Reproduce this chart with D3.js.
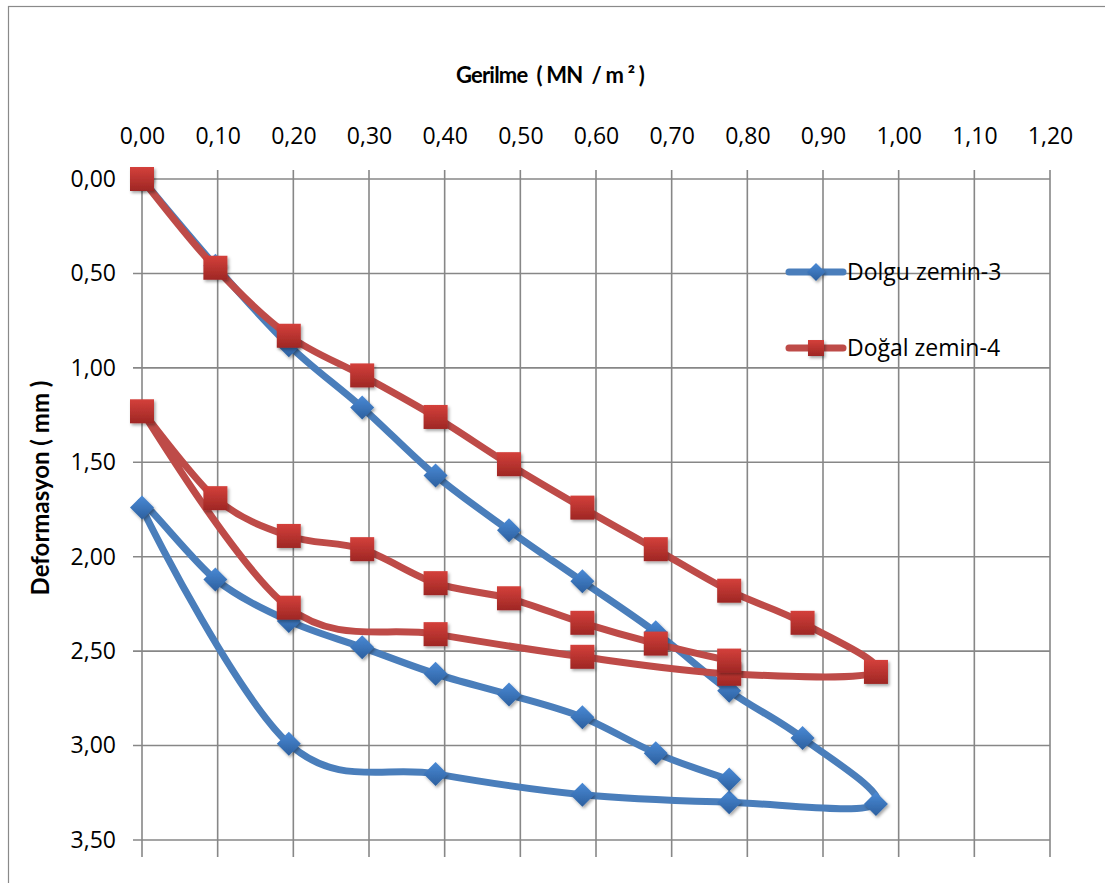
<!DOCTYPE html>
<html>
<head>
<meta charset="utf-8">
<script src="https://cdn.jsdelivr.net/npm/d3@7"></script>
<style>
  body { margin: 0; background: #fff; }
  svg text { font-family: "Open Sans", Lato, sans-serif; fill: #000; }
  svg text.title { font-family: Lato, "Open Sans", sans-serif; white-space: pre; }
</style>
</head>
<body>
<svg width="1105" height="883"></svg>
<script>
var svg = d3.select("svg"),
    width = +svg.attr("width"),
    height = +svg.attr("height");

// gerilme (MN/m2) values, loading - unloading - reloading
var dolguX = [0, 0.097, 0.194, 0.291, 0.388, 0.485, 0.582, 0.679, 0.776, 0.873, 0.970,
              0.776, 0.582, 0.388, 0.194, 0,
              0.097, 0.194, 0.291, 0.388, 0.485, 0.582, 0.679, 0.776];
var dolguY = [0, 0.46, 0.88, 1.21, 1.57, 1.86, 2.13, 2.40, 2.71, 2.96, 3.31,
              3.30, 3.26, 3.15, 2.99, 1.74,
              2.12, 2.34, 2.48, 2.62, 2.73, 2.85, 3.04, 3.18];

var dogalX = [0, 0.097, 0.194, 0.291, 0.388, 0.485, 0.582, 0.679, 0.776, 0.873, 0.970,
              0.776, 0.582, 0.388, 0.194, 0,
              0.097, 0.194, 0.291, 0.388, 0.485, 0.582, 0.679, 0.776];
var dogalY = [0, 0.47, 0.83, 1.04, 1.26, 1.51, 1.74, 1.96, 2.18, 2.35, 2.61,
              2.62, 2.53, 2.41, 2.27, 1.23,
              1.69, 1.89, 1.96, 2.14, 2.22, 2.35, 2.46, 2.55];

var seriesNames = ["Dolgu zemin-3", "Doğal zemin-4"];
var xTicks = d3.range(0, 1.2001, 0.1);
var yTicks = d3.range(0, 3.5001, 0.5);

var x = d3.scaleLinear().domain([0, 1.2]).range([142, 1050]);
var y = d3.scaleLinear().domain([0, 3.5]).range([179, 840]);

var fmt = function(d) { return d3.format(".2f")(d).replace(".", ","); };

// outer chart border
svg.append("rect")
    .attr("x", 8.5).attr("y", 6.5)
    .attr("width", 1110).attr("height", 890)
    .attr("fill", "none")
    .attr("stroke", "#8a8a8a")
    .attr("stroke-width", 1.2);

var defs = svg.append("defs");
var gb = defs.append("linearGradient").attr("id", "gBlue").attr("x1", 0).attr("y1", 0).attr("x2", 0).attr("y2", 1);
gb.append("stop").attr("offset", "0%").attr("stop-color", "#4a8ad6");
gb.append("stop").attr("offset", "100%").attr("stop-color", "#2c5f9e");
var gr = defs.append("linearGradient").attr("id", "gRed").attr("x1", 0).attr("y1", 0).attr("x2", 0).attr("y2", 1);
gr.append("stop").attr("offset", "0%").attr("stop-color", "#d4403b");
gr.append("stop").attr("offset", "100%").attr("stop-color", "#9e2724");
var sh = defs.append("filter").attr("id", "shadow").attr("x", "-50%").attr("y", "-50%").attr("width", "200%").attr("height", "200%");
sh.append("feDropShadow").attr("dx", 1.5).attr("dy", 2).attr("stdDeviation", 1.5)
    .attr("flood-color", "#000").attr("flood-opacity", 0.35);

// grid
var grid = svg.append("g").attr("stroke", "#878787").attr("stroke-width", 1.6);
grid.selectAll("line.v")
  .data(xTicks)
  .enter().append("line")
    .attr("x1", function(d) { return x(d); })
    .attr("x2", function(d) { return x(d); })
    .attr("y1", y(0) - 9)
    .attr("y2", 857);
grid.selectAll("line.h")
  .data(yTicks)
  .enter().append("line")
    .attr("x1", x(0) - 9)
    .attr("x2", x(1.2))
    .attr("y1", function(d) { return y(d); })
    .attr("y2", function(d) { return y(d); });

// axes (labels only, grid drawn above)
svg.append("g")
    .attr("transform", "translate(0," + y(0) + ")")
    .call(d3.axisTop(x).tickValues(xTicks).tickFormat(fmt).tickSize(0).tickPadding(35))
    .call(function(g) { g.select(".domain").remove(); })
    .selectAll("text")
    .style("font-size", "23px");

svg.append("g")
    .attr("transform", "translate(" + x(0) + ",0)")
    .call(d3.axisLeft(y).tickValues(yTicks).tickFormat(fmt).tickSize(0).tickPadding(26))
    .call(function(g) { g.select(".domain").remove(); })
    .selectAll("text")
    .style("font-size", "23px");

// axis titles
svg.append("text")
    .attr("class", "title")
    .attr("x", 550).attr("y", 83)
    .attr("text-anchor", "middle")
    .attr("font-weight", "bold")
    .style("font-size", "22px")
    .style("letter-spacing", "-0.8px")
    .text("Gerilme  ( MN  / m ² )");

svg.append("text")
    .attr("class", "title")
    .attr("transform", "translate(49,488) rotate(-90)")
    .attr("text-anchor", "middle")
    .attr("font-weight", "bold")
    .style("font-size", "24px")
    .text("Deformasyon ( mm )");

var line = d3.line()
    .x(function(d) { return x(d[0]); })
    .y(function(d) { return y(d[1]); })
    .curve(d3.curveCardinal.tension(0));

var series = [
  { name: seriesNames[0], xs: dolguX, ys: dolguY, stroke: "#4a7ebb", fill: "url(#gBlue)", shape: "diamond" },
  { name: seriesNames[1], xs: dogalX, ys: dogalY, stroke: "#be4b48", fill: "url(#gRed)", shape: "square" }
];

function marker(sel, s, size) {
  if (s.shape === "diamond") {
    sel.append("path")
      .attr("d", "M0," + (-size) + "L" + size + ",0L0," + size + "L" + (-size) + ",0Z")
      .attr("fill", s.fill)
      .attr("filter", "url(#shadow)");
  } else {
    sel.append("rect")
      .attr("x", -size).attr("y", -size)
      .attr("width", 2 * size).attr("height", 2 * size)
      .attr("fill", s.fill)
      .attr("filter", "url(#shadow)");
  }
}

series.forEach(function(s) {
  var pts = s.xs.map(function(v, i) { return [v, s.ys[i]]; });
  var g = svg.append("g");
  g.append("path")
    .datum(pts)
    .attr("d", line)
    .attr("fill", "none")
    .attr("stroke", s.stroke)
    .attr("stroke-width", 7)
    .attr("stroke-linejoin", "round")
    .attr("stroke-linecap", "round");
  g.selectAll("g.m")
    .data(pts)
    .enter().append("g")
    .attr("transform", function(d) { return "translate(" + x(d[0]) + "," + y(d[1]) + ")"; })
    .each(function() { marker(d3.select(this), s, 12); });
});

// legend
var legend = svg.append("g");
series.forEach(function(s, i) {
  var ly = 272 + i * 76;
  var lg = legend.append("g").attr("transform", "translate(0," + ly + ")");
  lg.append("line")
    .attr("x1", 789).attr("x2", 843)
    .attr("stroke", s.stroke)
    .attr("stroke-width", 7)
    .attr("stroke-linecap", "round");
  var mg = lg.append("g").attr("transform", "translate(816,0)");
  marker(mg, s, s.shape === "diamond" ? 9 : 8);
  lg.append("text")
    .attr("x", 847).attr("y", 0)
    .attr("dy", "0.35em")
    .style("font-size", "23px")
    .text(s.name);
});
</script>
</body>
</html>
